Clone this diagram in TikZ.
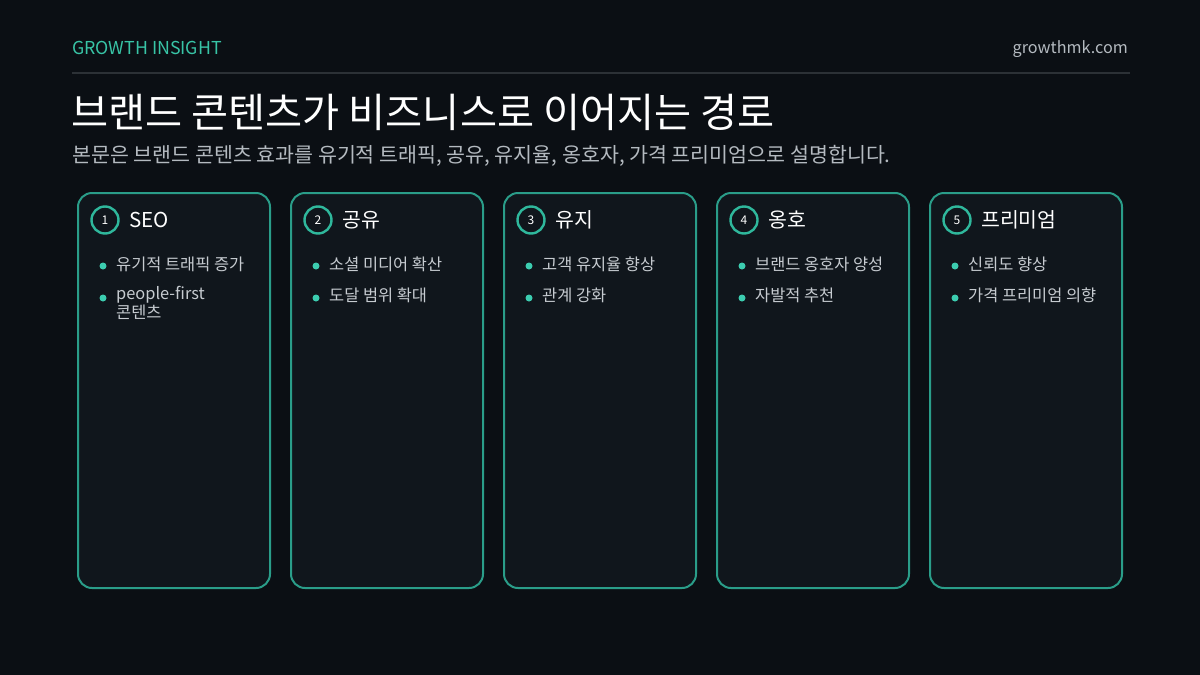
\documentclass[tikz,border=0pt]{standalone}
\usepackage{fontspec}
\setmainfont{Noto Sans CJK KR}
\usepackage{tikz}
\usetikzlibrary{positioning}
\definecolor{bgdark}{HTML}{0B0F14}
\definecolor{cardfill}{HTML}{10161C}
\definecolor{tealline}{HTML}{2A9D89}
\definecolor{badgeteal}{HTML}{2FB89C}
\definecolor{tealtext}{HTML}{38C4A6}
\definecolor{dotteal}{HTML}{3CCDB0}
\definecolor{rulegray}{HTML}{2C3136}
\definecolor{softgray}{HTML}{B4BAC0}
\definecolor{itemgray}{HTML}{C6CBD0}

\begin{document}
\begin{tikzpicture}[x=1pt,y=-1pt]
\tikzset{card/.style = {draw=tealline, line width=2pt, fill=cardfill, rounded corners=14pt,
                        minimum width=192pt, minimum height=395pt, inner sep=0pt},
         badge/.style = {circle, draw=badgeteal, line width=2.4pt, fill=cardfill, minimum size=27pt,
                         inner sep=0pt, text=white, font=\fontsize{12}{14}\selectfont},
         heading/.style = {anchor=west, inner sep=0pt, text=white, font=\fontsize{20.5}{24}\selectfont},
         bulletdot/.style = {circle, fill=dotteal, minimum size=7pt, inner sep=0pt},
         item/.style = {anchor=west, inner sep=0pt, text=itemgray, align=left,
                        font=\fontsize{16.4}{15.5}\selectfont}}
\useasboundingbox[fill=bgdark] (0,0) rectangle (1200,675);
            % header
	\node[anchor=west, inner sep=0pt, text=tealtext, font=\fontsize{17.8}{20}\selectfont] (brand) at (72,48) {GROWTH INSIGHT};
	\node[anchor=east, inner sep=0pt, text=softgray, font=\fontsize{16.2}{19}\selectfont] (site) at (1128,49) {growthmk.com};
	\coordinate (rulel) at (72,73);
	\coordinate (ruler) at (1130,73);
	\draw[rulegray, line width=2pt] (rulel) -- (ruler);
	\node[anchor=west, inner sep=0pt, text=white, font=\fontsize{40.3}{44}\selectfont] (title) at (71,112) {브랜드 콘텐츠가 비즈니스로 이어지는 경로};
	\node[anchor=west, inner sep=0pt, text=softgray, font=\fontsize{20.6}{24}\selectfont] (subtitle) at (72,156) {본문은 브랜드 콘텐츠 효과를 유기적 트래픽, 공유, 유지율, 옹호자, 가격 프리미엄으로 설명합니다.};
            % cards
	\node[card] (c1) at (174,390.5) {};
	\node[card] (c2) at (387,390.5) {};
	\node[card] (c3) at (600,390.5) {};
	\node[card] (c4) at (813,390.5) {};
	\node[card] (c5) at (1026,390.5) {};
            % badges and headings
	\node[badge] (n1) at (105,220) {1};
	\node[badge] (n2) at (318,220) {2};
	\node[badge] (n3) at (531,220) {3};
	\node[badge] (n4) at (744,220) {4};
	\node[badge] (n5) at (957,220) {5};
	\node[heading] (h1) at (129,220) {SEO};
	\node[heading] (h2) at (342,220) {공유};
	\node[heading] (h3) at (555,220) {유지};
	\node[heading] (h4) at (768,220) {옹호};
	\node[heading] (h5) at (981,220) {프리미엄};
            % bullets
	\node[bulletdot] (d11) at (103,266) {};
	\node[bulletdot] (d12) at (103,298) {};
	\node[bulletdot] (d21) at (316,266) {};
	\node[bulletdot] (d22) at (316,298) {};
	\node[bulletdot] (d31) at (529,266) {};
	\node[bulletdot] (d32) at (529,298) {};
	\node[bulletdot] (d41) at (742,266) {};
	\node[bulletdot] (d42) at (742,298) {};
	\node[bulletdot] (d51) at (955,266) {};
	\node[bulletdot] (d52) at (955,298) {};
	\node[item] (t11) at (116,264) {유기적 트래픽 증가};
	\node[item] (t12) at (116,303) {people-first\\콘텐츠};
	\node[item] (t21) at (329,264) {소셜 미디어 확산};
	\node[item] (t22) at (329,295) {도달 범위 확대};
	\node[item] (t31) at (542,264) {고객 유지율 향상};
	\node[item] (t32) at (542,295) {관계 강화};
	\node[item] (t41) at (755,264) {브랜드 옹호자 양성};
	\node[item] (t42) at (755,295) {자발적 추천};
	\node[item] (t51) at (968,264) {신뢰도 향상};
	\node[item] (t52) at (968,295) {가격 프리미엄 의향};
\end{tikzpicture}
\end{document}
